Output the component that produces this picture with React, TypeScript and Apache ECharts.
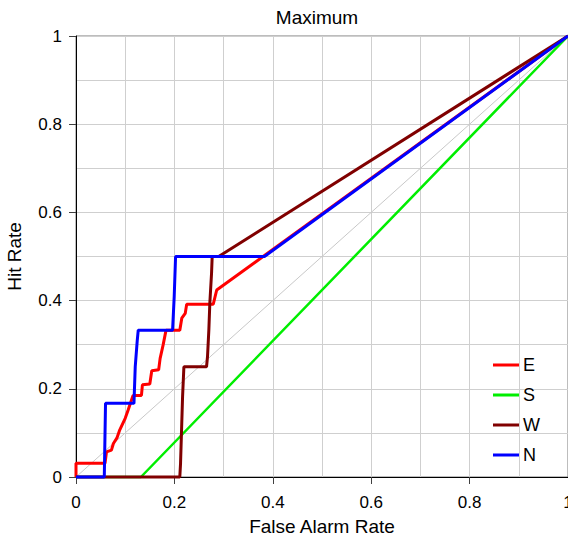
import React, { useEffect, useRef } from "react";
import * as echarts from "echarts";

// ROC curves per direction: [false alarm rate, hit rate]
const seriesNames = ["E", "S", "W", "N"];
const seriesColors = ["#ff0000", "#00ee00", "#800000", "#0000ff"];

const rocE: [number, number][] = [
  [0, 0], [0, 0.031], [0.059, 0.031], [0.062, 0.057], [0.072, 0.061],
  [0.076, 0.076], [0.083, 0.088], [0.089, 0.107], [0.1, 0.133],
  [0.106, 0.152], [0.113, 0.175], [0.116, 0.185], [0.133, 0.185],
  [0.135, 0.209], [0.15, 0.211], [0.154, 0.241], [0.168, 0.243],
  [0.171, 0.269], [0.177, 0.299], [0.183, 0.333], [0.211, 0.333],
  [0.215, 0.36], [0.222, 0.371], [0.225, 0.392], [0.279, 0.392],
  [0.286, 0.424], [1, 1],
];
const rocS: [number, number][] = [
  [0, 0], [0.132, 0], [1, 1],
];
const rocW: [number, number][] = [
  [0, 0], [0.211, 0], [0.2125, 0.031], [0.2166, 0.182], [0.2193, 0.25],
  [0.2653, 0.25], [0.2673, 0.273], [0.27, 0.333], [0.272, 0.394],
  [0.2755, 0.462], [0.2768, 0.5], [0.29, 0.5], [1, 1],
];
const rocN: [number, number][] = [
  [0, 0], [0.0575, 0], [0.06, 0.167], [0.1178, 0.167], [0.1204, 0.25],
  [0.1245, 0.31], [0.1265, 0.333], [0.1963, 0.333], [0.1996, 0.409],
  [0.2024, 0.5], [0.383, 0.5], [1, 1],
];
const chanceLine: [number, number][] = [[0, 0], [1, 1]];

const rocData = [rocE, rocS, rocW, rocN];

const FONT = "'Liberation Sans', Arial, sans-serif";

export default function App() {
  const ref = useRef<HTMLDivElement>(null);

  useEffect(() => {
    if (!ref.current) return;
    const chart = echarts.init(ref.current, null, { renderer: "svg" });

    const axisCommon = {
      type: "value" as const,
      min: 0,
      max: 1,
      interval: 0.2,
      axisLine: { show: true, lineStyle: { color: "#000000", width: 1 } },
      axisTick: { show: true, length: 7, lineStyle: { color: "#404040" } },
      minorTick: { show: false, splitNumber: 2 },
      splitLine: { show: true, lineStyle: { color: "#cfcfcf", width: 1 } },
      minorSplitLine: { show: true, lineStyle: { color: "#cfcfcf", width: 1 } },
      nameLocation: "middle" as const,
      nameTextStyle: { fontSize: 19, color: "#000", fontFamily: FONT },
    };

    chart.setOption({
      animation: false,
      backgroundColor: "#ffffff",
      title: {
        text: "Maximum",
        left: 312,
        top: 3,
        textAlign: "center",
        textStyle: { fontSize: 19, fontWeight: "normal", color: "#000", fontFamily: FONT },
      },
      grid: {
        left: 76,
        right: 0,
        top: 36,
        bottom: 64,
        containLabel: false,
        outerBoundsMode: "none",
        show: true,
        borderColor: "#7a7a7a",
        borderWidth: 1,
        backgroundColor: "transparent",
      },
      legend: {
        data: seriesNames,
        orient: "vertical",
        left: 493,
        top: 356,
        icon: "rect",
        itemWidth: 26,
        itemHeight: 3,
        itemGap: 12,
        padding: 0,
        textStyle: { fontSize: 18, color: "#000", fontFamily: FONT, padding: [0, 0, 0, -1] },
      },
      xAxis: {
        ...axisCommon,
        name: "False Alarm Rate",
        nameGap: 40,
        axisLabel: { fontSize: 17, color: "#000", fontFamily: FONT, margin: 17 },
      },
      yAxis: {
        ...axisCommon,
        name: "Hit Rate",
        nameGap: 52,
        axisLabel: { fontSize: 17, color: "#000", fontFamily: FONT, margin: 14 },
      },
      series: [
        {
          name: "chance",
          type: "line",
          data: chanceLine,
          showSymbol: false,
          silent: true,
          lineStyle: { color: "#c8c8c8", width: 1 },
          z: 1,
        },
        ...rocData.map((data, i) => ({
          name: seriesNames[i],
          type: "line",
          data,
          showSymbol: false,
          clip: false,
          color: seriesColors[i],
          lineStyle: { color: seriesColors[i], width: i === 1 ? 2.5 : 3 },
          z: 3 + i,
        })),
      ],
    });

    return () => chart.dispose();
  }, []);

  return (
    <div
      ref={ref}
      style={{ position: "fixed", left: 0, top: 0, width: 568, height: 541 }}
    />
  );
}
